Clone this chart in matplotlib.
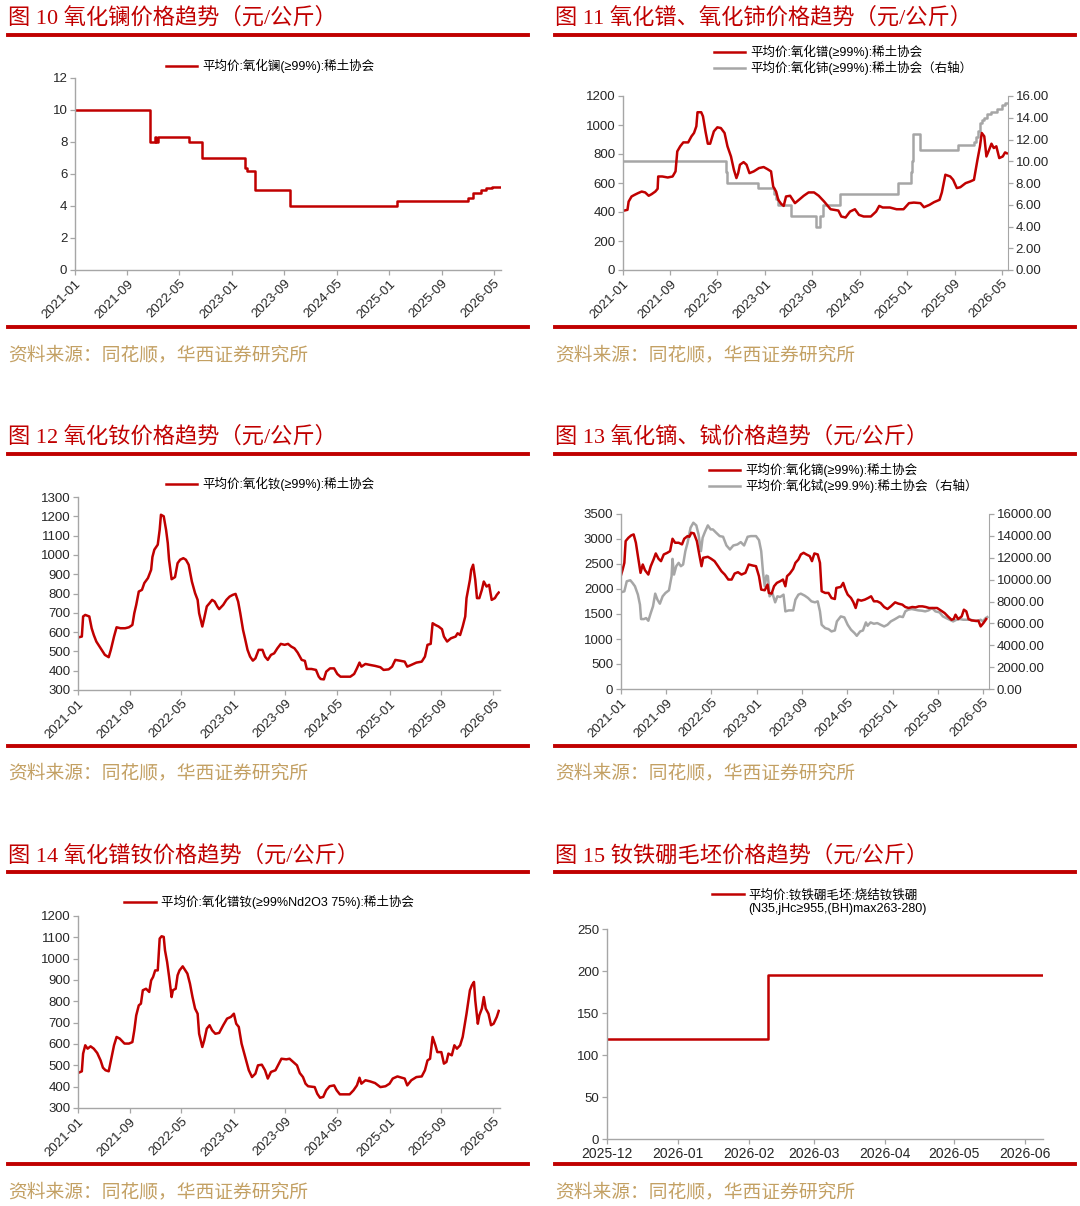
"""华西证券 稀土价格图 10-15 复刻，输出 out.png。"""

import matplotlib

matplotlib.use("Agg")
import matplotlib.pyplot as plt
from matplotlib.lines import Line2D
from matplotlib.ticker import FixedLocator, FormatStrFormatter, MultipleLocator
import matplotlib.dates as mdates
import pandas as pd

plt.rcParams["font.family"] = ["Liberation Sans", "Noto Sans CJK SC"]
plt.rcParams["axes.unicode_minus"] = False

W, H = 1080, 1206
RED = "#C00000"
GRAY = "#A6A6A6"
SPINE = "#A6A6A6"
TXT = "#262626"
GOLD = "#C3A063"
SERIF = ["Liberation Serif", "Noto Sans CJK SC"]

# ---- 图10 氧化镧 (阶梯)
la_dates = ["2021-01-01", "2021-12-15", "2022-01-08", "2022-01-12", "2022-01-22",
            "2022-06-15", "2022-08-15", "2023-03-04", "2023-03-10", "2023-04-17",
            "2023-09-28", "2025-02-06", "2026-01-03", "2026-01-22", "2026-03-01",
            "2026-03-25", "2026-04-24", "2026-06-02"]
la_vals = [10, 8, 8.3, 8, 8.3, 8, 7, 6.4, 6.2, 5, 4, 4.3, 4.5, 4.8, 5.0, 5.1, 5.2, 5.2]

# ---- 图11 氧化镨 / 氧化铈
pr_dates = ["2021-01-01", "2021-01-24", "2021-01-30", "2021-02-14", "2021-03-01", "2021-03-19",
            "2021-04-07", "2021-04-25", "2021-05-13", "2021-05-28", "2021-06-16", "2021-06-28",
            "2021-07-01", "2021-07-22", "2021-08-19", "2021-09-13", "2021-09-28", "2021-10-07",
            "2021-10-22", "2021-11-07", "2021-12-02", "2021-12-19", "2022-01-01", "2022-01-13",
            "2022-01-19", "2022-02-07", "2022-02-16", "2022-03-01", "2022-03-13", "2022-03-25",
            "2022-04-13", "2022-05-01", "2022-05-19", "2022-06-07", "2022-06-22", "2022-07-10",
            "2022-07-25", "2022-08-07", "2022-08-16", "2022-08-25", "2022-09-13", "2022-09-28",
            "2022-10-13", "2022-11-04", "2022-12-01", "2022-12-25", "2023-01-13", "2023-02-01",
            "2023-02-12", "2023-02-27", "2023-03-10", "2023-03-25", "2023-04-07", "2023-04-19",
            "2023-05-10", "2023-06-04", "2023-06-28", "2023-07-19", "2023-08-13", "2023-09-10",
            "2023-10-04", "2023-11-01", "2023-12-04", "2024-01-13", "2024-01-28", "2024-02-19",
            "2024-03-13", "2024-04-07", "2024-04-28", "2024-05-22", "2024-06-28", "2024-07-25",
            "2024-08-10", "2024-08-28", "2024-10-04", "2024-11-07", "2024-12-13", "2025-01-10",
            "2025-02-04", "2025-03-10", "2025-03-28", "2025-04-25", "2025-05-19", "2025-06-16",
            "2025-06-28", "2025-07-16", "2025-08-10", "2025-08-25", "2025-09-13", "2025-10-01",
            "2025-10-28", "2025-11-22", "2025-12-10", "2025-12-19", "2025-12-28", "2026-01-10",
            "2026-01-19", "2026-02-01", "2026-02-12", "2026-02-26", "2026-03-10", "2026-03-22",
            "2026-04-04", "2026-04-19", "2026-05-07", "2026-05-19", "2026-05-28"]
pr_vals = [408, 415, 472, 507, 518, 530, 541, 535, 512, 523, 541, 560,
           645, 645, 638, 645, 680, 818, 853, 880, 880, 922, 945, 991,
           1088, 1088, 1060, 956, 871, 871, 956, 984, 979, 945, 853, 783,
           691, 634, 668, 726, 744, 726, 668, 680, 703, 710, 696, 680,
           576, 541, 484, 456, 442, 507, 512, 461, 488, 512, 535, 535,
           512, 472, 419, 410, 369, 362, 403, 419, 380, 369, 369, 403,
           442, 431, 431, 419, 419, 461, 465, 461, 433, 449, 468, 484,
           535, 657, 645, 622, 565, 571, 599, 611, 622, 691, 760, 853,
           945, 922, 783, 829, 871, 841, 853, 772, 783, 811, 805]

ce_dates = ["2021-01-01", "2022-06-14", "2022-06-20", "2022-11-28", "2023-02-18", "2023-03-01",
            "2023-03-10", "2023-05-12", "2023-09-19", "2023-10-10", "2023-10-28", "2024-01-20",
            "2024-11-15", "2025-01-19", "2025-01-25", "2025-02-01", "2025-03-10", "2025-09-19",
            "2025-12-10", "2025-12-22", "2026-01-01", "2026-01-10", "2026-01-18", "2026-02-01",
            "2026-02-15", "2026-03-10", "2026-04-10", "2026-05-05", "2026-05-20", "2026-05-30"]
ce_vals = [10.0, 9.0, 8.0, 7.5, 7.0, 6.5, 6.0, 5.0, 4.0, 5.0, 6.0, 7.0,
           8.0, 9.0, 10.0, 12.5, 11.0, 11.5, 11.8, 12.2, 12.8, 13.5, 13.8, 14.0,
           14.3, 14.5, 14.8, 15.2, 15.4, 15.4]

# ---- 图12 氧化钕
nd_dates = ["2021-01-01", "2021-01-19", "2021-01-25", "2021-02-04", "2021-02-23", "2021-03-06",
            "2021-03-16", "2021-03-28", "2021-04-17", "2021-05-07", "2021-05-25", "2021-06-04",
            "2021-06-19", "2021-07-01", "2021-07-19", "2021-08-10", "2021-08-28", "2021-09-13",
            "2021-09-22", "2021-10-01", "2021-10-13", "2021-10-28", "2021-11-08", "2021-11-25",
            "2021-12-10", "2021-12-16", "2021-12-25", "2022-01-10", "2022-01-19", "2022-01-25",
            "2022-02-07", "2022-02-18", "2022-02-26", "2022-03-04", "2022-03-16", "2022-04-01",
            "2022-04-13", "2022-04-25", "2022-05-10", "2022-05-22", "2022-06-04", "2022-06-19",
            "2022-07-04", "2022-07-16", "2022-07-23", "2022-08-07", "2022-08-16", "2022-08-28",
            "2022-09-10", "2022-09-22", "2022-10-04", "2022-10-16", "2022-10-25", "2022-11-13",
            "2022-11-28", "2022-12-13", "2022-12-28", "2023-01-10", "2023-01-22", "2023-02-01",
            "2023-02-14", "2023-02-23", "2023-03-07", "2023-03-19", "2023-04-01", "2023-04-13",
            "2023-04-28", "2023-05-16", "2023-05-28", "2023-06-10", "2023-06-25", "2023-07-10",
            "2023-07-25", "2023-08-10", "2023-08-28", "2023-09-13", "2023-09-28", "2023-10-13",
            "2023-10-28", "2023-11-16", "2023-12-01", "2023-12-10", "2024-01-01", "2024-01-22",
            "2024-02-04", "2024-02-13", "2024-02-28", "2024-03-10", "2024-03-28", "2024-04-16",
            "2024-05-01", "2024-05-16", "2024-06-07", "2024-07-01", "2024-07-19", "2024-08-01",
            "2024-08-13", "2024-08-22", "2024-09-10", "2024-10-01", "2024-10-25", "2024-11-19",
            "2024-12-04", "2024-12-28", "2025-01-13", "2025-01-28", "2025-02-18", "2025-03-13",
            "2025-03-25", "2025-04-13", "2025-05-07", "2025-06-01", "2025-06-16", "2025-06-28",
            "2025-07-13", "2025-07-22", "2025-08-04", "2025-08-19", "2025-09-04", "2025-09-13",
            "2025-09-28", "2025-10-16", "2025-11-07", "2025-11-16", "2025-11-28", "2025-12-10",
            "2025-12-22", "2025-12-28", "2026-01-13", "2026-01-19", "2026-01-28", "2026-02-07",
            "2026-02-15", "2026-02-26", "2026-03-10", "2026-03-19", "2026-04-01", "2026-04-13",
            "2026-04-25", "2026-05-10", "2026-05-19", "2026-05-28"]
nd_vals = [572, 577, 681, 689, 681, 620, 585, 551, 516, 482, 470, 508,
           577, 625, 620, 620, 625, 637, 698, 741, 810, 819, 854, 880,
           923, 989, 1027, 1053, 1130, 1208, 1200, 1130, 1061, 975, 874, 885,
           957, 975, 983, 975, 949, 862, 802, 767, 698, 629, 672, 733,
           750, 767, 758, 733, 719, 741, 767, 784, 793, 798, 758, 698,
           611, 568, 508, 473, 452, 464, 508, 508, 473, 456, 482, 490,
           516, 539, 534, 539, 525, 516, 494, 456, 451, 409, 409, 404,
           369, 357, 355, 395, 412, 412, 383, 369, 369, 369, 383, 412,
           442, 421, 435, 430, 425, 418, 404, 407, 421, 456, 452, 447,
           421, 430, 442, 447, 473, 534, 539, 646, 637, 629, 615, 577,
           551, 568, 577, 594, 585, 629, 681, 776, 871, 923, 949, 871,
           776, 776, 819, 862, 836, 845, 767, 776, 793, 805]

# ---- 图13 氧化镝 / 氧化铽
dy_dates = ["2021-01-01", "2021-01-10", "2021-01-19", "2021-01-26", "2021-02-10", "2021-02-25",
            "2021-03-10", "2021-03-22", "2021-04-02", "2021-04-16", "2021-04-28", "2021-05-10",
            "2021-05-28", "2021-06-10", "2021-06-25", "2021-07-07", "2021-07-22", "2021-08-04",
            "2021-08-19", "2021-09-07", "2021-09-22", "2021-10-05", "2021-10-19", "2021-11-07",
            "2021-11-25", "2021-12-07", "2021-12-25", "2022-01-04", "2022-01-14", "2022-01-28",
            "2022-02-13", "2022-02-26", "2022-03-10", "2022-03-19", "2022-04-13", "2022-05-01",
            "2022-05-19", "2022-06-07", "2022-06-25", "2022-07-13", "2022-08-01", "2022-08-19",
            "2022-09-04", "2022-09-22", "2022-10-11", "2022-11-01", "2022-11-19", "2022-12-10",
            "2022-12-28", "2023-01-13", "2023-01-25", "2023-02-13", "2023-02-28", "2023-03-07",
            "2023-03-22", "2023-04-04", "2023-04-19", "2023-05-07", "2023-05-22", "2023-06-04",
            "2023-06-13", "2023-06-28", "2023-07-16", "2023-07-28", "2023-08-13", "2023-08-26",
            "2023-09-10", "2023-09-25", "2023-10-13", "2023-10-25", "2023-11-07", "2023-11-25",
            "2023-12-07", "2023-12-16", "2024-01-04", "2024-01-22", "2024-02-07", "2024-02-25",
            "2024-03-04", "2024-03-28", "2024-04-10", "2024-04-22", "2024-05-04", "2024-05-22",
            "2024-06-04", "2024-06-16", "2024-06-28", "2024-07-16", "2024-08-04", "2024-08-22",
            "2024-09-07", "2024-09-22", "2024-10-10", "2024-10-28", "2024-11-16", "2024-12-04",
            "2024-12-22", "2025-01-14", "2025-02-01", "2025-02-22", "2025-03-10", "2025-03-28",
            "2025-04-16", "2025-05-04", "2025-05-22", "2025-06-10", "2025-06-28", "2025-07-16",
            "2025-08-10", "2025-08-28", "2025-09-16", "2025-10-07", "2025-10-25", "2025-11-13",
            "2025-11-25", "2025-12-05", "2025-12-19", "2026-01-07", "2026-01-19", "2026-02-01",
            "2026-02-13", "2026-03-01", "2026-03-19", "2026-04-07", "2026-04-19", "2026-05-04",
            "2026-05-19"]
dy_vals = [2275, 2390, 2523, 2958, 3025, 3072, 3092, 2925, 2657, 2323, 2490, 2376,
           2289, 2456, 2590, 2711, 2604, 2557, 2691, 2724, 2758, 3005, 2925, 2925,
           2892, 3005, 3058, 3045, 3125, 3112, 2958, 2691, 2456, 2624, 2644, 2604,
           2557, 2456, 2356, 2289, 2189, 2189, 2309, 2336, 2289, 2323, 2490, 2470,
           2456, 2256, 1988, 1975, 2088, 1921, 1908, 2055, 2122, 2155, 2189, 2055,
           2256, 2309, 2403, 2523, 2590, 2691, 2724, 2691, 2657, 2557, 2711, 2691,
           2523, 1955, 1921, 1921, 1820, 1800, 2022, 2042, 2122, 1988, 1888, 1820,
           1733, 1620, 1787, 1767, 1787, 1820, 1854, 1754, 1754, 1720, 1640, 1600,
           1653, 1733, 1707, 1687, 1640, 1620, 1640, 1633, 1653, 1653, 1640, 1620,
           1620, 1620, 1573, 1520, 1452, 1385, 1399, 1486, 1399, 1452, 1586, 1553,
           1399, 1372, 1365, 1365, 1252, 1318, 1399]

tb_dates = ["2021-01-01", "2021-01-19", "2021-02-01", "2021-02-20", "2021-03-04", "2021-03-17",
            "2021-04-02", "2021-04-13", "2021-04-19", "2021-05-04", "2021-05-16", "2021-05-28",
            "2021-06-10", "2021-06-22", "2021-07-04", "2021-07-16", "2021-07-29", "2021-08-13",
            "2021-08-28", "2021-09-16", "2021-09-30", "2021-10-05", "2021-10-13", "2021-10-25",
            "2021-11-07", "2021-11-19", "2021-12-01", "2021-12-13", "2021-12-25", "2022-01-10",
            "2022-01-25", "2022-02-10", "2022-02-22", "2022-03-07", "2022-03-16", "2022-03-28",
            "2022-04-13", "2022-04-28", "2022-05-10", "2022-05-28", "2022-06-16", "2022-07-04",
            "2022-07-22", "2022-08-10", "2022-08-28", "2022-09-19", "2022-10-07", "2022-10-25",
            "2022-11-13", "2022-12-01", "2022-12-28", "2023-01-13", "2023-01-25", "2023-02-04",
            "2023-02-13", "2023-02-22", "2023-03-02", "2023-03-11", "2023-03-26", "2023-04-10",
            "2023-04-22", "2023-05-07", "2023-05-25", "2023-06-04", "2023-06-22", "2023-07-16",
            "2023-07-28", "2023-08-13", "2023-08-26", "2023-09-16", "2023-10-04", "2023-10-22",
            "2023-11-10", "2023-11-25", "2023-12-07", "2023-12-16", "2024-01-04", "2024-01-22",
            "2024-02-07", "2024-02-25", "2024-03-07", "2024-03-28", "2024-04-16", "2024-05-04",
            "2024-05-22", "2024-06-10", "2024-06-22", "2024-07-10", "2024-07-25", "2024-08-10",
            "2024-08-19", "2024-09-04", "2024-09-22", "2024-10-10", "2024-10-28", "2024-11-16",
            "2024-12-04", "2024-12-22", "2025-01-14", "2025-02-07", "2025-02-25", "2025-03-10",
            "2025-03-25", "2025-04-13", "2025-05-01", "2025-05-19", "2025-06-07", "2025-06-25",
            "2025-07-13", "2025-08-01", "2025-08-19", "2025-09-10", "2025-09-28", "2025-10-16",
            "2025-11-04", "2025-11-22", "2025-12-10", "2025-12-28", "2026-01-16", "2026-02-04",
            "2026-02-22", "2026-03-10", "2026-03-28", "2026-04-19", "2026-05-01", "2026-05-16",
            "2026-05-25"]
tb_vals = [8840, 8932, 9850, 9942, 9697, 9391, 8626, 7709, 6393, 6393, 6485, 6240,
           6944, 7556, 8718, 8168, 7800, 8473, 8779, 9024, 10309, 11900, 10462, 11227,
           11532, 11227, 11380, 12603, 13368, 14744, 15203, 14958, 14132, 12603, 13827, 14347,
           14958, 14591, 14591, 14285, 13980, 13919, 13123, 12756, 13123, 13215, 13429, 13123,
           13919, 13980, 13980, 13612, 12603, 10615, 9391, 10370, 10309, 8473, 8779, 7923,
           8473, 8412, 8626, 7097, 7188, 7188, 8168, 8626, 8718, 8535, 8320, 8015,
           7923, 8015, 7097, 5873, 5567, 5476, 5262, 5353, 6179, 6638, 6546, 5873,
           5414, 5109, 4864, 5262, 5353, 6087, 5782, 6087, 5965, 6026, 5873, 5720,
           5873, 6179, 6393, 6638, 6577, 7097, 7250, 7311, 7250, 7188, 7158, 7097,
           7188, 7403, 7097, 7005, 6638, 6485, 6332, 6179, 6332, 6393, 6332, 6332,
           6332, 6271, 6179, 6332, 6179, 6485, 6577]

# ---- 图14 氧化镨钕
prnd_dates = ["2021-01-01", "2021-01-19", "2021-01-25", "2021-02-04", "2021-02-15", "2021-03-01",
              "2021-03-16", "2021-04-01", "2021-04-17", "2021-04-28", "2021-05-10", "2021-05-25",
              "2021-06-08", "2021-06-19", "2021-07-01", "2021-07-16", "2021-08-07", "2021-08-28",
              "2021-09-13", "2021-09-22", "2021-10-01", "2021-10-13", "2021-10-23", "2021-11-01",
              "2021-11-16", "2021-12-01", "2021-12-10", "2021-12-19", "2021-12-29", "2022-01-10",
              "2022-01-19", "2022-01-28", "2022-02-07", "2022-02-13", "2022-02-23", "2022-03-04",
              "2022-03-16", "2022-03-22", "2022-04-04", "2022-04-13", "2022-04-22", "2022-05-07",
              "2022-05-19", "2022-05-29", "2022-06-10", "2022-06-22", "2022-07-04", "2022-07-16",
              "2022-07-23", "2022-08-07", "2022-08-16", "2022-08-28", "2022-09-10", "2022-09-22",
              "2022-10-07", "2022-10-25", "2022-11-13", "2022-12-01", "2022-12-19", "2023-01-02",
              "2023-01-13", "2023-01-25", "2023-02-07", "2023-02-18", "2023-03-01", "2023-03-13",
              "2023-03-28", "2023-04-13", "2023-04-25", "2023-05-13", "2023-05-28", "2023-06-10",
              "2023-06-25", "2023-07-16", "2023-08-01", "2023-08-13", "2023-09-05", "2023-09-20",
              "2023-10-07", "2023-10-25", "2023-11-07", "2023-11-22", "2023-12-04", "2023-12-16",
              "2024-01-16", "2024-01-28", "2024-02-10", "2024-02-25", "2024-03-10", "2024-03-26",
              "2024-04-16", "2024-04-28", "2024-05-13", "2024-06-07", "2024-06-28", "2024-07-16",
              "2024-08-01", "2024-08-13", "2024-08-22", "2024-09-10", "2024-10-01", "2024-10-25",
              "2024-11-19", "2024-12-13", "2025-01-01", "2025-01-16", "2025-02-07", "2025-02-28",
              "2025-03-13", "2025-03-25", "2025-04-13", "2025-05-07", "2025-06-01", "2025-06-16",
              "2025-06-28", "2025-07-10", "2025-07-22", "2025-08-04", "2025-08-13", "2025-09-01",
              "2025-09-13", "2025-09-25", "2025-10-04", "2025-10-20", "2025-11-01", "2025-11-13",
              "2025-11-28", "2025-12-10", "2025-12-19", "2025-12-28", "2026-01-13", "2026-01-22",
              "2026-02-01", "2026-02-07", "2026-02-19", "2026-02-26", "2026-03-10", "2026-03-19",
              "2026-03-28", "2026-04-10", "2026-04-22", "2026-05-04", "2026-05-19", "2026-05-28"]
prnd_vals = [464, 472, 555, 594, 578, 589, 578, 558, 523, 489, 477, 472,
             539, 594, 633, 625, 602, 602, 609, 664, 734, 781, 789, 852,
             859, 844, 898, 914, 945, 945, 1094, 1105, 1102, 1039, 984, 917,
             820, 852, 859, 922, 945, 964, 945, 930, 883, 820, 766, 742,
             648, 586, 617, 672, 688, 664, 648, 652, 688, 719, 727, 742,
             695, 680, 602, 562, 523, 477, 445, 461, 500, 503, 477, 438,
             469, 477, 508, 531, 528, 531, 516, 500, 464, 445, 414, 402,
             398, 367, 348, 352, 383, 402, 406, 383, 364, 364, 364, 383,
             406, 442, 414, 430, 425, 417, 398, 402, 414, 438, 448, 442,
             438, 406, 430, 445, 448, 477, 523, 531, 633, 594, 562, 562,
             508, 516, 555, 547, 594, 578, 594, 633, 688, 742, 852, 875,
             891, 805, 695, 734, 766, 820, 766, 742, 688, 695, 727, 755]

# ---- 图15 钕铁硼毛坯 (阶梯)
ndfeb_dates = ["2025-12-01", "2026-02-09", "2026-06-09"]
ndfeb_vals = [119, 195, 195]

date_ticks = pd.date_range("2021-01-01", "2026-05-01", freq="8MS")
date_lim = (pd.Timestamp("2021-01-01"), pd.Timestamp("2026-06-03"))

fig = plt.figure(figsize=(W / 100, H / 100), dpi=100)


def box(l, t, r, b):
    return [l / W, 1 - b / H, (r - l) / W, (b - t) / H]


def hline(x0, x1, y, lw=2.8):
    fig.add_artist(Line2D([x0 / W, x1 / W], [1 - y / H, 1 - y / H],
                          transform=fig.transFigure, color=RED, lw=lw))


def frame(x0, x1, y_title, title, y_top, y_bot, y_src):
    fig.text(x0 / W, 1 - y_title / H, title, family=SERIF, fontsize=16,
             color=RED, ha="left", va="center")
    hline(x0, x1, y_top)
    hline(x0, x1, y_bot)
    fig.text(x0 / W, 1 - y_src / H, "资料来源：同花顺，华西证券研究所", family=SERIF,
             fontsize=13.5, color=GOLD, ha="left", va="center")


def style(ax):
    for s in ("top", "right"):
        ax.spines[s].set_visible(False)
    for s in ("left", "bottom"):
        ax.spines[s].set_color(SPINE)
        ax.spines[s].set_linewidth(1.0)
    ax.tick_params(colors=SPINE, labelcolor=TXT, labelsize=9.5, length=3.5, width=0.9, pad=2)
    ax.patch.set_visible(False)


def date_axis(ax):
    ax.set_xlim(*date_lim)
    ax.xaxis.set_major_locator(FixedLocator(mdates.date2num(date_ticks)))
    ax.xaxis.set_major_formatter(mdates.DateFormatter("%Y-%m"))
    for lab in ax.get_xticklabels():
        lab.set_rotation(45)
        lab.set_ha("right")
        lab.set_rotation_mode("anchor")
        lab.set_fontsize(9.5)


def twin(ax, ylim, step):
    ax2 = ax.twinx()
    for s in ("top", "left", "bottom"):
        ax2.spines[s].set_visible(False)
    ax2.spines["right"].set_color(SPINE)
    ax2.tick_params(colors=SPINE, labelcolor=TXT, labelsize=9.5, length=3.5, width=0.9, pad=2)
    ax2.set_ylim(*ylim)
    ax2.yaxis.set_major_locator(MultipleLocator(step))
    ax2.yaxis.set_major_formatter(FormatStrFormatter("%.2f"))
    ax.set_zorder(ax2.get_zorder() + 1)
    return ax2


def legend(handles, labels, cx, cy):
    return fig.legend(handles, labels, loc="center", bbox_to_anchor=(cx / W, 1 - cy / H),
                      frameon=False, fontsize=9, handlelength=2.5, handletextpad=0.4,
                      labelspacing=0.15, borderpad=0, borderaxespad=0)


# 图10
frame(8, 528, 18, "图 10 氧化镧价格趋势（元/公斤）", 35, 327, 355)
ax = fig.add_axes(box(75, 78, 501, 270))
style(ax)
l1, = ax.plot(pd.to_datetime(la_dates), la_vals, color=RED, lw=1.8, drawstyle="steps-post")
ax.set_ylim(0, 12)
ax.yaxis.set_major_locator(MultipleLocator(2))
date_axis(ax)
legend([l1], ["平均价:氧化镧(≥99%):稀土协会"], 270, 66)

# 图11
frame(555, 1075, 18, "图 11 氧化镨、氧化铈价格趋势（元/公斤）", 35, 327, 355)
ax = fig.add_axes(box(623, 96, 1008, 270))
style(ax)
ax2 = twin(ax, (0, 16), 2)
g1, = ax2.plot(pd.to_datetime(ce_dates), ce_vals, color=GRAY, lw=1.8, drawstyle="steps-post")
r1, = ax.plot(pd.to_datetime(pr_dates), pr_vals, color=RED, lw=1.8)
ax.set_ylim(0, 1200)
ax.yaxis.set_major_locator(MultipleLocator(200))
date_axis(ax)
legend([r1, g1], ["平均价:氧化镨(≥99%):稀土协会", "平均价:氧化铈(≥99%):稀土协会（右轴）"], 843, 60)

# 图12
frame(8, 528, 437, "图 12 氧化钕价格趋势（元/公斤）", 454, 746, 773)
ax = fig.add_axes(box(78, 497, 500, 690))
style(ax)
l1, = ax.plot(pd.to_datetime(nd_dates), nd_vals, color=RED, lw=1.8)
ax.set_ylim(300, 1300)
ax.yaxis.set_major_locator(MultipleLocator(100))
date_axis(ax)
legend([l1], ["平均价:氧化钕(≥99%):稀土协会"], 270, 484)

# 图13
frame(555, 1075, 437, "图 13 氧化镝、铽价格趋势（元/公斤）", 454, 746, 773)
ax = fig.add_axes(box(621, 514, 989, 689))
style(ax)
ax2 = twin(ax, (0, 16000), 2000)
g1, = ax2.plot(pd.to_datetime(tb_dates), tb_vals, color=GRAY, lw=1.8)
r1, = ax.plot(pd.to_datetime(dy_dates), dy_vals, color=RED, lw=1.8)
ax.set_ylim(0, 3500)
ax.yaxis.set_major_locator(MultipleLocator(500))
date_axis(ax)
legend([r1, g1], ["平均价:氧化镝(≥99%):稀土协会", "平均价:氧化铽(≥99.9%):稀土协会（右轴）"], 843, 478)

# 图14
frame(8, 528, 856, "图 14 氧化镨钕价格趋势（元/公斤）", 872, 1164, 1192)
ax = fig.add_axes(box(78, 916, 500, 1108))
style(ax)
l1, = ax.plot(pd.to_datetime(prnd_dates), prnd_vals, color=RED, lw=1.8)
ax.set_ylim(300, 1200)
ax.yaxis.set_major_locator(MultipleLocator(100))
date_axis(ax)
legend([l1], ["平均价:氧化镨钕(≥99%Nd2O3 75%):稀土协会"], 269, 902)

# 图15
frame(555, 1075, 856, "图 15 钕铁硼毛坯价格趋势（元/公斤）", 872, 1164, 1192)
ax = fig.add_axes(box(607, 929, 1043, 1139))
style(ax)
ax.tick_params(axis="x", labelsize=10)
l1, = ax.plot(pd.to_datetime(ndfeb_dates), ndfeb_vals, color=RED, lw=1.8, drawstyle="steps-post")
ax.set_ylim(0, 250)
ax.yaxis.set_major_locator(MultipleLocator(50))
ax.set_xlim(pd.Timestamp("2025-12-01"), pd.Timestamp("2026-06-09"))
ax.xaxis.set_major_locator(mdates.MonthLocator())
ax.xaxis.set_major_formatter(mdates.DateFormatter("%Y-%m"))
leg = legend([l1], ["平均价:钕铁硼毛坯:烧结钕铁硼"], 815, 895)

fig.canvas.draw()
tb = leg.get_texts()[0].get_window_extent()
fig.text(tb.x0 / W, 1 - 909 / H, "(N35,jHc≥955,(BH)max263-280)", fontsize=9,
         color="black", ha="left", va="center")

fig.savefig("out.png", dpi=100)
